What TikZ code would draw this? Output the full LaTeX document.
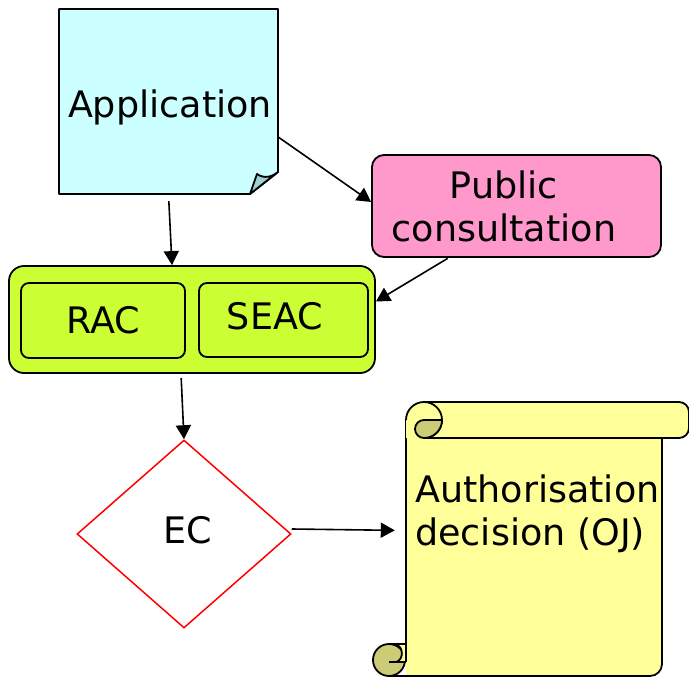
\documentclass[tikz,border=0pt]{standalone}
\usepackage{fontspec}
\setmainfont{DejaVu Sans}
\usetikzlibrary{shapes.geometric,arrows.meta,calc}
\definecolor{appfill}{HTML}{CCFFFF}
\definecolor{flapfill}{HTML}{A0D0D0}
\definecolor{pubfill}{HTML}{FF99CC}
\definecolor{grpfill}{HTML}{CCFF33}
\definecolor{scrfill}{HTML}{FFFF99}
\definecolor{curlfill}{HTML}{CCCC77}
\begin{document}
\begin{tikzpicture}[x=1pt,y=-1pt,
  font=\fontsize{36.5}{43}\selectfont,
  outl/.style={draw=black,line width=1.8pt,line join=round},
  box/.style={outl,inner sep=0pt,rounded corners=#1},
  txt/.style={inner sep=0pt},
  arr/.style={-{Triangle[length=14pt,width=15pt]},line width=1.6pt}]
\useasboundingbox (0,0) rectangle (689,677);
% Application (note with folded corner)
\draw[outl,fill=appfill] (59,9) -- (278,9) -- (278,172) -- (250,194) -- (59,194) -- cycle;
\draw[outl,fill=flapfill] (250,194) -- (257,174) .. controls (264,179) and (272,177) .. (278,172) -- cycle;
\node[txt,minimum width=219pt,minimum height=185pt] (app) at (168.5,101.5) {};
\node[txt] (apptext) at (170,107) {Application};
% Public consultation
\node[box=12pt,fill=pubfill,minimum width=289pt,minimum height=102pt] (pub) at (516.5,206) {};
\node[txt,align=center] (pubtext) at (504,206) {Public\\consultation};
% RAC / SEAC group
\node[box=15pt,fill=grpfill,minimum width=366pt,minimum height=107pt] (grp) at (192,319.5) {};
\node[box=8pt,minimum width=164pt,minimum height=75pt] (rac) at (103,320.5) {};
\node[txt] (ractext) at (103,320) {RAC};
\node[box=8pt,minimum width=169pt,minimum height=74pt] (seac) at (283.5,320) {};
\node[txt] (seactext) at (275,316) {SEAC};
% EC decision
\node[diamond,draw=red,line width=1.5pt,fill=white,inner sep=0pt,
      minimum width=214pt,minimum height=188pt] (ec) at (184,534) {};
\node[txt] (ectext) at (187.5,530) {EC};
% Scroll
\fill[scrfill] (406,420) -- (662,420) -- (662,664) arc[start angle=0,end angle=-90,radius=12pt] -- (406,676) -- cycle;
\draw[outl] (662,437) -- (662,664) arc[start angle=0,end angle=-90,radius=12pt] -- (389,676);
\draw[outl] (406,420) -- (406,662);
\fill[scrfill] (406,420) arc[start angle=180,end angle=90,radius=18pt] -- (679,402)
  arc[start angle=90,end angle=0,radius=10pt] -- (689,428)
  arc[start angle=0,end angle=-90,radius=10pt] -- (424,438) -- (406,438) -- cycle;
\draw[outl] (406,420) arc[start angle=180,end angle=90,radius=18pt] -- (679,402)
  arc[start angle=90,end angle=0,radius=10pt] -- (689,428)
  arc[start angle=0,end angle=-90,radius=10pt] -- (424,438);
\draw[outl] (424,402) arc[start angle=90,end angle=-90,radius=18pt];
\draw[outl,fill=curlfill] (424,420) -- (442,420) arc[start angle=0,end angle=-90,radius=18pt]
  arc[start angle=-90,end angle=-270,radius=9pt] -- cycle;
\draw[outl,fill=curlfill] (389,660) circle[radius=16pt];
\fill[scrfill] (395,644) -- (406,644) -- (406,662) -- (396,662) .. controls (404,660) and (404,646) .. (395,644);
\draw[outl] (395,644) .. controls (404,646) and (404,660) .. (396,662);
\draw[outl] (389,662) -- (406,662);
\draw[outl] (389,644) -- (406,644) -- (406,662);
\node[txt,minimum width=256pt,minimum height=239pt] (auth) at (534,556.5) {};
\node[txt,align=left,anchor=west] (authtext) at (415,514) {Authorisation\\decision (OJ)};
% Connectors
\draw[arr,shorten <=7pt] (app.south) -- ([xshift=-20pt]grp.north);
\draw[arr] ([yshift=-35.5pt]app.east) -- ([yshift=4pt]pub.west);
\draw[arr,shorten <=1pt] ([xshift=-68pt]pub.south) -- ([yshift=18pt]grp.east);
\draw[arr,shorten <=4pt] ([xshift=-11pt]grp.south) -- (ec.north);
\draw[arr,shorten >=11pt] ([yshift=5pt]ec.east) -- ([yshift=26pt]auth.west);
\end{tikzpicture}
\end{document}
